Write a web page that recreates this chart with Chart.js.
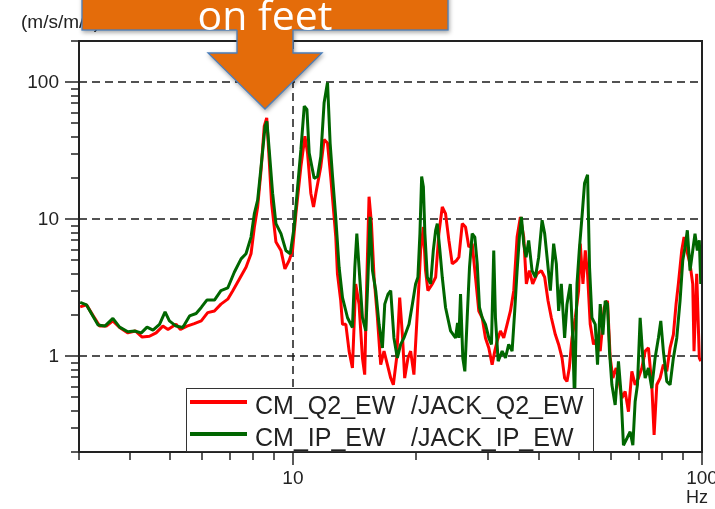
<!DOCTYPE html>
<html>
<head>
<meta charset="utf-8">
<script src="https://cdn.jsdelivr.net/npm/chart.js@4.4.1/dist/chart.umd.min.js"></script>
<style>
  body { margin: 0; background: #fff; }
  .wrap { position: relative; width: 715px; height: 509px; overflow: hidden; }
  #spec { position: absolute; left: 0; top: 0; }
  .legend { position: absolute; left: 186px; top: 388px; width: 408px; height: 64px; box-sizing: border-box;
    border: 1px solid #333; background: #fff; font: 25px "Liberation Sans", Arial, sans-serif; color: #222; }
  .legend .row { position: absolute; left: 0; width: 100%; height: 32px; line-height: 32px; white-space: pre; }
  .legend .swatch { position: absolute; left: 3px; width: 57px; height: 4px; }
  .legend .name { position: absolute; left: 68px; top: 0; }
  .legend .name span { display: inline-block; width: 156px; }
  svg { position: absolute; left: 0; top: 0; pointer-events: none; }
</style>
</head>
<body>
<div class="wrap">
  <canvas id="spec" width="715" height="509"></canvas>
  <div class="legend">
    <div class="row" style="top:0px">
      <div class="swatch" style="top:11px;background:#ff0000"></div>
      <div class="name"><span>CM_Q2_EW</span>/JACK_Q2_EW</div>
    </div>
    <div class="row" style="top:32px">
      <div class="swatch" style="top:11px;background:#006600"></div>
      <div class="name"><span>CM_IP_EW</span>/JACK_IP_EW</div>
    </div>
  </div>
  <svg width="715" height="509">
    <text x="21" y="28" font-family="Liberation Sans, Arial" font-size="19" fill="#222">(m/s/m/s)</text>
    <text x="697" y="503" text-anchor="middle" font-family="Liberation Sans, Arial" font-size="18" fill="#222">Hz</text>
    <g style="filter: drop-shadow(1px 2px 2px rgba(0,0,0,0.35))">
      <rect x="82" y="-20" width="366" height="50" fill="#E46C0A" stroke="#4A7EBB" stroke-width="1.3"></rect>
      <polygon points="237,25 293,25 293,53 322,53 265,109 208,53 237,53" fill="#E46C0A"></polygon>
      <polyline points="237,30 237,53 208,53 265,109 322,53 293,53 293,30" fill="none" stroke="#4A7EBB" stroke-width="1.3"></polyline>
    </g>
    <text x="265" y="30" text-anchor="middle" font-family="Open Sans, Lato, sans-serif" font-size="41" fill="#fff">on feet</text>
  </svg>
</div>
<script>
// CM_Q2_EW / JACK_Q2_EW  (red)
const freqQ2 = [
  3.02, 3.13, 3.25, 3.37, 3.50, 3.63, 3.77, 3.95, 4.12, 4.28,
  4.46, 4.63, 4.81, 4.95, 5.18, 5.31, 5.51, 5.74, 5.97, 6.19,
  6.43, 6.67, 6.93, 7.13, 7.40, 7.68, 7.90, 8.05, 8.20, 8.36,
  8.51, 8.63, 8.75, 8.87, 9.09, 9.35, 9.56, 9.79, 9.98, 10.17,
  10.46, 10.70, 10.86, 11.06, 11.23, 11.38, 11.70, 11.92, 12.15, 12.38,
  12.61, 12.73, 12.85, 13.09, 13.22, 13.47, 13.72, 13.98, 14.24, 14.51,
  14.79, 14.98, 15.15, 15.35, 15.56, 15.79, 16.09, 16.39, 16.70, 17.02,
  17.34, 17.60, 17.93, 18.24, 18.52, 18.76, 19.11, 19.40, 19.76, 20.07,
  20.33, 20.52, 20.84, 21.10, 21.38, 21.92, 22.33, 22.74, 23.18, 23.61,
  24.06, 24.52, 25.12, 25.45, 25.94, 26.42, 26.92, 27.43, 27.95, 28.47,
  29.02, 29.56, 30.12, 30.69, 31.15, 31.57, 32.16, 32.76, 33.39, 34.02,
  34.66, 35.32, 35.98, 36.66, 37.21, 37.85, 38.56, 39.52, 40.49, 41.25,
  42.04, 42.83, 43.80, 44.62, 45.48, 46.15, 46.77, 47.38, 48.11, 49.01,
  49.93, 50.40, 51.17, 51.84, 52.51, 53.31, 54.31, 55.36, 56.39, 57.68,
  58.75, 59.65, 60.56, 61.69, 62.49, 63.70, 64.89, 66.11, 67.38, 68.64,
  69.93, 71.28, 72.62, 73.97, 75.38, 76.37, 77.54, 78.99, 80.46, 82.01,
  83.55, 85.12, 86.42, 87.54, 89.22, 90.39, 91.77, 93.49, 94.92, 95.61,
  97.07, 98.5, 99.3
];
const ampQ2 = [
  2.29, 2.37, 1.97, 1.66, 1.66, 1.81, 1.62, 1.48, 1.53, 1.38,
  1.40, 1.48, 1.66, 1.57, 1.71, 1.57, 1.66, 1.73, 1.81, 2.08,
  2.14, 2.40, 2.61, 3.01, 3.66, 4.46, 5.60, 8.78, 12.3, 22.9,
  47.7, 55.0, 27.2, 13.1, 6.81, 5.92, 4.34, 5.00, 5.92, 11.0,
  24.2, 40.3, 30.4, 15.5, 12.3, 15.5, 24.2, 38.1, 36.0, 20.0,
  10.4, 7.41, 3.99, 2.54, 1.71, 1.71, 1.09, 0.820, 3.37, 2.40,
  0.972, 0.734, 3.37, 14.6, 9.30, 3.77, 1.91, 0.869, 1.09, 0.869,
  0.693, 0.619, 0.972, 2.68, 1.44, 0.693, 0.972, 1.09, 0.734, 1.71,
  3.37, 5.92, 8.78, 4.22, 3.01, 3.37, 3.77, 7.85, 12.3, 11.0,
  7.01, 4.72, 5.00, 5.28, 9.30, 8.78, 6.26, 6.63, 3.77, 2.14,
  1.91, 1.36, 1.15, 0.869, 1.09, 1.29, 1.53, 1.36, 1.71, 2.14,
  3.01, 7.41, 10.4, 7.41, 3.37, 4.22, 3.37, 3.99, 4.22, 3.77,
  2.54, 1.91, 1.44, 1.22, 0.972, 0.693, 0.655, 0.820, 1.36, 1.91,
  3.01, 6.63, 3.37, 5.92, 3.99, 1.71, 1.22, 1.36, 1.09, 2.27,
  2.54, 0.972, 0.693, 0.820, 0.693, 0.494, 0.553, 0.394, 0.776, 0.619,
  0.693, 0.820, 1.09, 1.15, 0.619, 0.266, 0.619, 0.693, 0.869, 0.776,
  1.15, 1.44, 2.40, 3.37, 5.92, 7.41, 5.92, 4.72, 3.37, 1.09,
  3.99, 0.972, 0.919
];

// CM_IP_EW / JACK_IP_EW  (green)
const freqIP = [
  3.02, 3.13, 3.22, 3.34, 3.47, 3.63, 3.77, 3.95, 4.10, 4.26,
  4.40, 4.55, 4.72, 4.87, 4.99, 5.18, 5.38, 5.59, 5.80, 5.97,
  6.16, 6.43, 6.67, 6.93, 7.19, 7.47, 7.68, 7.90, 8.05, 8.20,
  8.36, 8.55, 8.64, 8.75, 8.92, 9.09, 9.35, 9.61, 9.85, 10.07,
  10.27, 10.46, 10.66, 10.82, 10.96, 11.27, 11.49, 11.70, 11.92, 12.15,
  12.33, 12.50, 12.73, 12.97, 13.22, 13.60, 13.98, 14.17, 14.33, 14.51,
  14.79, 15.07, 15.26, 15.44, 15.65, 15.94, 16.24, 16.55, 16.77, 17.08,
  17.34, 17.66, 18.00, 18.34, 18.68, 19.22, 19.59, 19.95, 20.21, 20.44,
  20.64, 20.84, 21.02, 21.31, 21.71, 22.04, 22.33, 22.54, 22.87, 23.18,
  23.61, 24.29, 24.98, 25.26, 25.45, 25.69, 26.02, 26.32, 26.67, 27.02,
  27.43, 27.84, 28.22, 28.58, 29.02, 29.56, 30.12, 30.57, 30.97, 31.27,
  31.75, 32.47, 33.08, 33.69, 34.34, 34.85, 35.32, 35.78, 36.19, 36.66,
  37.15, 37.70, 38.42, 39.15, 39.88, 40.65, 41.25, 41.81, 42.59, 43.39,
  44.05, 44.62, 45.30, 46.15, 46.77, 47.65, 48.27, 48.81, 49.48, 50.12,
  50.89, 51.63, 52.51, 53.10, 53.82, 54.83, 55.54, 56.39, 57.25, 58.00,
  58.75, 59.41, 60.22, 61.34, 62.49, 63.34, 64.27, 65.51, 66.74, 67.76,
  68.64, 69.54, 70.60, 71.68, 72.62, 73.97, 75.38, 76.80, 78.24, 79.30,
  80.46, 82.01, 83.55, 85.12, 86.76, 88.38, 89.74, 90.90, 92.08, 93.49,
  94.92, 96.14, 97.40, 98.5, 99.3
];
const ampIP = [
  2.47, 2.37, 2.04, 1.69, 1.66, 1.89, 1.63, 1.51, 1.53, 1.48,
  1.63, 1.55, 1.71, 2.11, 1.81, 1.66, 1.62, 1.97, 2.05, 2.27,
  2.57, 2.57, 3.01, 3.15, 4.10, 5.14, 5.60, 7.41, 11.0, 13.8,
  24.2, 47.7, 51.9, 32.2, 15.5, 9.30, 7.85, 5.92, 5.60, 8.78,
  17.3, 32.2, 67.0, 63.3, 30.4, 19.9, 20.5, 28.7, 70.9, 99.5,
  36.0, 20.5, 10.2, 4.46, 2.68, 1.91, 1.62, 4.46, 7.85, 4.46,
  1.91, 1.53, 3.77, 10.4, 4.22, 3.01, 1.71, 1.15, 2.40, 2.84,
  3.01, 1.36, 0.972, 1.22, 1.36, 1.71, 2.40, 3.37, 3.77, 7.85,
  20.5, 17.3, 7.85, 3.77, 3.37, 5.92, 8.30, 9.30, 5.92, 3.77,
  2.27, 1.53, 1.36, 1.75, 1.36, 2.84, 0.972, 0.776, 1.91, 4.46,
  7.85, 7.41, 4.72, 2.27, 1.91, 1.71, 1.36, 1.22, 5.92, 1.91,
  0.919, 1.09, 0.972, 1.22, 1.09, 2.14, 4.22, 7.41, 10.4, 6.63,
  5.28, 7.01, 4.22, 3.77, 5.28, 9.83, 7.85, 5.28, 3.01, 6.63,
  4.72, 2.14, 3.37, 1.36, 2.40, 3.37, 1.44, 0.467, 3.37, 5.92,
  10.4, 18.3, 21.1, 4.46, 1.91, 1.71, 0.869, 2.40, 1.44, 2.54,
  2.40, 1.09, 0.619, 0.441, 0.919, 0.553, 0.224, 0.251, 0.281, 0.224,
  0.467, 0.619, 1.91, 0.972, 0.693, 0.820, 0.585, 0.972, 1.36, 1.81,
  1.09, 0.655, 0.619, 0.972, 1.36, 2.54, 5.00, 6.26, 8.30, 4.22,
  5.92, 7.85, 5.92, 7.01, 3.37
];

const xLabels = ["10", "100"];
const yLabels = ["1", "10", "100"];

function toPoints(xs, ys) {
  return xs.map((x, i) => ({ x: x, y: ys[i] }));
}

// minor ticks for every decade between lo and hi
function logTicks(lo, hi) {
  let out = [];
  for (let d = 0.1; d <= hi; d *= 10) {
    for (let k = 1; k <= 9; k++) {
      let v = +(k * d).toPrecision(3);
      if (v >= lo && v <= hi) out.push(v);
    }
  }
  return out;
}

const axisFrame = {
  id: "axisFrame",
  beforeDatasetsDraw(chart) {
    const { ctx, chartArea: a, scales: { x, y } } = chart;
    ctx.save();
    ctx.strokeStyle = "#1a1a1a";
    ctx.lineWidth = 1.5;
    ctx.setLineDash([8, 5]);
    yLabels.forEach((t) => {
      let py = Math.round(y.getPixelForValue(Number(t)));
      ctx.beginPath();
      ctx.moveTo(a.left, py);
      ctx.lineTo(a.right, py);
      ctx.stroke();
    });
    xLabels.forEach((t) => {
      let px = Math.round(x.getPixelForValue(Number(t)));
      ctx.beginPath();
      ctx.moveTo(px, a.top);
      ctx.lineTo(px, a.bottom);
      ctx.stroke();
    });
    ctx.restore();
  },
  afterDatasetsDraw(chart) {
    const { ctx, chartArea: a, scales: { x, y } } = chart;
    ctx.save();
    ctx.strokeStyle = "#222";
    ctx.lineWidth = 2;
    ctx.strokeRect(a.left, a.top, a.right - a.left, a.bottom - a.top);

    ctx.lineWidth = 1.5;
    logTicks(0.2, 200).forEach((v) => {
      let py = Math.round(y.getPixelForValue(v));
      let len = yLabels.includes(String(v)) ? 14 : 8;
      ctx.beginPath();
      ctx.moveTo(a.left - len, py);
      ctx.lineTo(a.left, py);
      ctx.stroke();
    });
    logTicks(3, 100).forEach((v) => {
      let px = Math.round(x.getPixelForValue(v));
      let len = xLabels.includes(String(v)) ? 13 : 8;
      ctx.beginPath();
      ctx.moveTo(px, a.bottom);
      ctx.lineTo(px, a.bottom + len);
      ctx.stroke();
    });

    ctx.fillStyle = "#222";
    ctx.font = '19px "Liberation Sans", Arial, sans-serif';
    ctx.textAlign = "right";
    ctx.textBaseline = "middle";
    yLabels.forEach((t) => {
      ctx.fillText(t, a.left - 20, y.getPixelForValue(Number(t)) + 1);
    });
    ctx.textAlign = "center";
    xLabels.forEach((t) => {
      ctx.fillText(t, x.getPixelForValue(Number(t)), a.bottom + 27);
    });
    ctx.restore();
  },
};

var myChart = new Chart(document.getElementById("spec").getContext("2d"), {
  type: "line",
  data: {
    datasets: [
      {
        label: "CM_Q2_EW  /JACK_Q2_EW",
        data: toPoints(freqQ2, ampQ2),
        borderColor: "#ff0000",
        borderWidth: 3,
        order: 1,
      },
      {
        label: "CM_IP_EW   /JACK_IP_EW",
        data: toPoints(freqIP, ampIP),
        borderColor: "#006600",
        borderWidth: 3,
        order: 0,
      },
    ],
  },
  options: {
    responsive: false,
    animation: false,
    devicePixelRatio: 1,
    layout: { padding: { left: 79, right: 13, top: 41, bottom: 57 } },
    elements: {
      point: { radius: 0 },
      line: { tension: 0, borderJoinStyle: "bevel" },
    },
    plugins: { legend: { display: false }, tooltip: { enabled: false } },
    scales: {
      x: { type: "logarithmic", min: 3, max: 100, display: false },
      y: { type: "logarithmic", min: 0.2, max: 200, display: false },
    },
  },
  plugins: [axisFrame],
});
</script>
</body>
</html>
